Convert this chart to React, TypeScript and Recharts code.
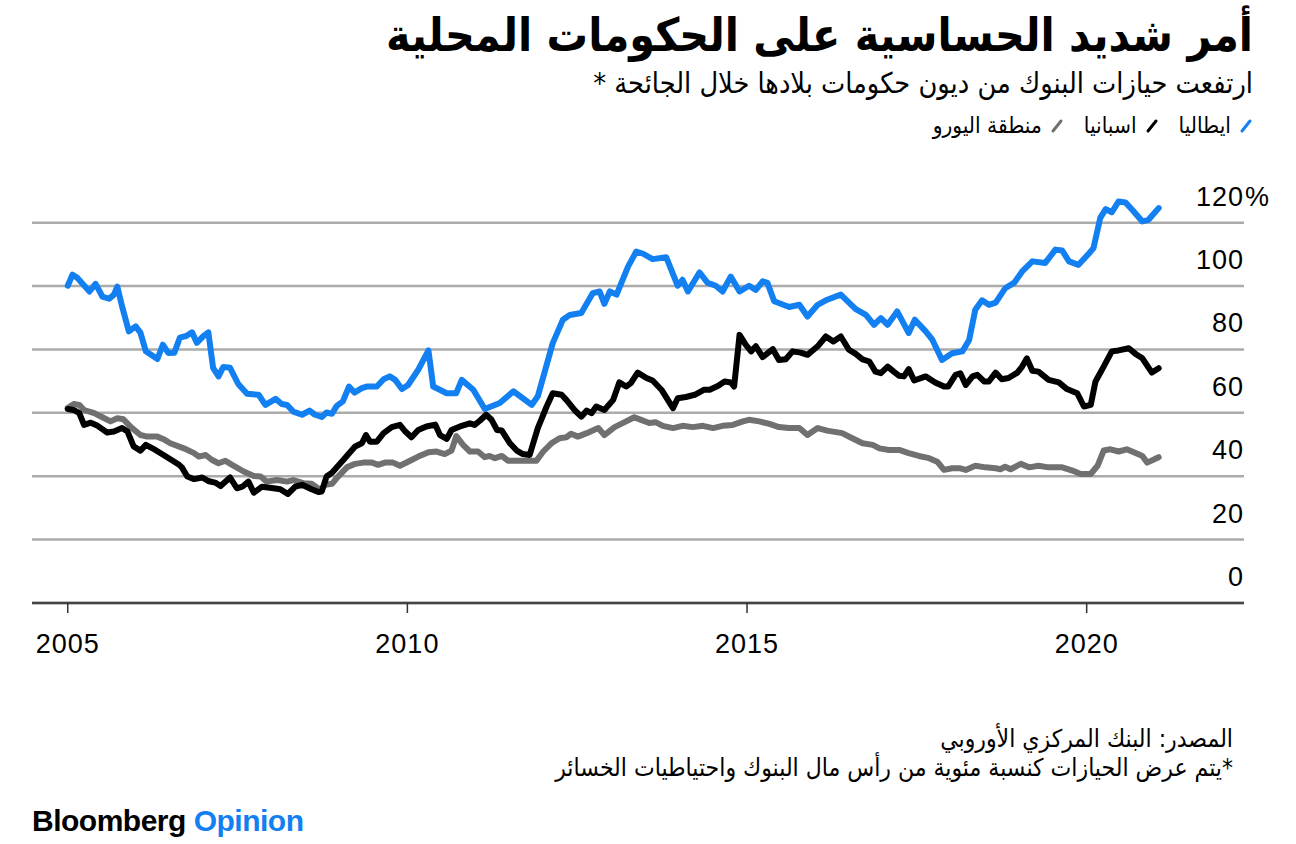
import { LineChart, Line, XAxis, YAxis, CartesianGrid } from 'recharts'

// values (year, % of capital and reserves)
const italy: [number, number][] = [
  [2005.0, 100.1], [2005.07, 103.6], [2005.14, 102.6], [2005.32, 98.3], [2005.41, 100.7], [2005.51, 96.7],
  [2005.61, 96], [2005.68, 97.3], [2005.73, 99.8], [2005.8, 93.6], [2005.9, 85.7], [2006.0, 87.3],
  [2006.07, 85.3], [2006.15, 79.4], [2006.32, 77], [2006.4, 81.5], [2006.48, 78.9], [2006.57, 79],
  [2006.65, 83.7], [2006.75, 84.3], [2006.83, 85.4], [2006.9, 82.1], [2007.0, 84.3], [2007.07, 85.4],
  [2007.14, 74.2], [2007.22, 71.5], [2007.29, 74.5], [2007.39, 74.2], [2007.51, 69.1], [2007.64, 66],
  [2007.81, 65.7], [2007.91, 62.5], [2008.06, 64.4], [2008.15, 62.8], [2008.23, 62.5], [2008.32, 60.4],
  [2008.45, 59.4], [2008.56, 60.7], [2008.64, 59.4], [2008.74, 58.7], [2008.81, 60.1], [2008.89, 59.7],
  [2008.96, 62.2], [2009.05, 63.6], [2009.14, 68.3], [2009.22, 66.4], [2009.33, 67.8], [2009.4, 68.3],
  [2009.55, 68.3], [2009.65, 70.6], [2009.74, 71.5], [2009.82, 70.4], [2009.92, 67.5], [2010.01, 68.8],
  [2010.16, 73.6], [2010.31, 79.7], [2010.38, 68.3], [2010.58, 66.2], [2010.72, 66.2], [2010.8, 70.4],
  [2010.97, 67.3], [2011.14, 61.2], [2011.36, 63.1], [2011.56, 66.8], [2011.65, 65.4], [2011.83, 62.5],
  [2011.92, 65.2], [2012.14, 82], [2012.29, 89.4], [2012.39, 90.9], [2012.56, 91.5], [2012.73, 97.8],
  [2012.83, 98.3], [2012.9, 94.4], [2012.98, 98.3], [2013.08, 97.3], [2013.25, 106.2], [2013.37, 110.9],
  [2013.47, 110.2], [2013.61, 108.5], [2013.81, 109.1], [2013.98, 100.1], [2014.05, 102], [2014.13, 98.3],
  [2014.3, 104.3], [2014.42, 101], [2014.54, 100.1], [2014.64, 98.3], [2014.76, 103], [2014.89, 98.3],
  [2015.03, 100.1], [2015.13, 98.8], [2015.23, 101.5], [2015.3, 101], [2015.4, 95.2], [2015.62, 93.4],
  [2015.77, 94.1], [2015.89, 90.4], [2016.04, 94.1], [2016.18, 95.7], [2016.38, 97.3], [2016.6, 92.7],
  [2016.75, 90.9], [2016.87, 87.8], [2016.97, 89.9], [2017.07, 87.8], [2017.21, 92], [2017.38, 85.2],
  [2017.47, 89.4], [2017.63, 85.7], [2017.73, 83], [2017.87, 76.7], [2018.02, 78.8], [2018.17, 79.4],
  [2018.27, 83], [2018.36, 92.5], [2018.46, 95.5], [2018.56, 94.1], [2018.66, 94.8], [2018.8, 99.3],
  [2018.93, 101], [2019.05, 104.6], [2019.2, 107.8], [2019.39, 107.3], [2019.54, 111.5], [2019.64, 111.2],
  [2019.74, 107.8], [2019.88, 106.7], [2020.03, 110.2], [2020.1, 112], [2020.2, 121.5], [2020.28, 124.3],
  [2020.37, 123.3], [2020.47, 126.7], [2020.57, 126.4], [2020.67, 124.1], [2020.82, 120.4], [2020.91, 120.9],
  [2021.06, 124.6],
]

const spain: [number, number][] = [
  [2005.0, 61.2], [2005.09, 60.9], [2005.17, 59.9], [2005.24, 56.2], [2005.34, 56.9], [2005.44, 55.9],
  [2005.58, 53.8], [2005.68, 54.1], [2005.8, 55.2], [2005.88, 54.1], [2005.97, 49.4], [2006.07, 48.1],
  [2006.15, 49.9], [2006.29, 48.3], [2006.41, 46.7], [2006.64, 43.6], [2006.68, 42.8], [2006.76, 39.9],
  [2006.86, 39.1], [2006.98, 39.6], [2007.08, 38.4], [2007.17, 38], [2007.25, 36.9], [2007.39, 39.6],
  [2007.49, 36.2], [2007.57, 36.7], [2007.66, 38.3], [2007.74, 34.8], [2007.86, 36.7], [2008.03, 36.2],
  [2008.13, 35.9], [2008.24, 34.4], [2008.35, 36.7], [2008.45, 37.3], [2008.59, 35.9], [2008.69, 35],
  [2008.74, 35.2], [2008.81, 39.9], [2008.89, 41.1], [2009.06, 45.2], [2009.23, 49.4], [2009.33, 50.4],
  [2009.39, 53], [2009.45, 50.9], [2009.55, 50.9], [2009.65, 53.6], [2009.77, 55.5], [2009.89, 56.2],
  [2009.97, 54.1], [2010.06, 52.3], [2010.16, 54.6], [2010.28, 55.7], [2010.41, 56.3], [2010.48, 53],
  [2010.58, 51.8], [2010.65, 54.6], [2010.8, 55.9], [2010.92, 56.7], [2010.99, 56.2], [2011.07, 57.6],
  [2011.16, 59.4], [2011.24, 57.8], [2011.32, 54.6], [2011.39, 54.4], [2011.51, 50.4], [2011.61, 48.1],
  [2011.7, 47], [2011.8, 46.7], [2011.92, 55.2], [2012.05, 62], [2012.14, 66.2], [2012.27, 65.7],
  [2012.34, 64.1], [2012.46, 60.9], [2012.56, 58.8], [2012.64, 60.7], [2012.71, 59.9], [2012.78, 62],
  [2012.9, 60.9], [2013.03, 64.1], [2013.12, 69.6], [2013.22, 68.3], [2013.29, 69.4], [2013.39, 72.7],
  [2013.52, 71], [2013.61, 70.2], [2013.74, 67.3], [2013.91, 61.5], [2013.98, 64.6], [2014.1, 65],
  [2014.23, 65.7], [2014.37, 67.3], [2014.45, 67.3], [2014.57, 68.5], [2014.67, 69.9], [2014.76, 69.6],
  [2014.81, 68.3], [2014.89, 84.6], [2014.98, 81.5], [2015.06, 79.4], [2015.13, 81], [2015.23, 77.6],
  [2015.38, 80.1], [2015.47, 76.7], [2015.57, 76.9], [2015.67, 79.4], [2015.79, 79], [2015.89, 78.3],
  [2016.04, 81], [2016.16, 84.1], [2016.27, 82.5], [2016.38, 84.1], [2016.5, 79.9], [2016.6, 78.6],
  [2016.7, 76.9], [2016.8, 76.2], [2016.89, 73], [2016.97, 72.5], [2017.07, 74.6], [2017.16, 73],
  [2017.24, 71.7], [2017.31, 71.5], [2017.38, 73.8], [2017.46, 70.2], [2017.63, 71.5], [2017.77, 69.6],
  [2017.9, 68.3], [2017.96, 68.3], [2018.07, 72], [2018.14, 72.5], [2018.22, 68.8], [2018.32, 71.5],
  [2018.39, 72], [2018.49, 69.9], [2018.56, 69.9], [2018.66, 72.7], [2018.75, 70.6], [2018.85, 71],
  [2018.98, 72.7], [2019.05, 74.6], [2019.12, 77.2], [2019.2, 73.3], [2019.29, 73], [2019.44, 70.4],
  [2019.59, 69.6], [2019.71, 67.5], [2019.86, 66.2], [2019.96, 62], [2020.06, 62.5], [2020.13, 69.9],
  [2020.25, 74.6], [2020.37, 79.4], [2020.47, 79.7], [2020.62, 80.4], [2020.72, 78.6], [2020.82, 77.2],
  [2020.96, 72.7], [2021.06, 74.1],
]

const euroArea: [number, number][] = [
  [2005.0, 61.5], [2005.09, 62.8], [2005.17, 62.5], [2005.24, 60.9], [2005.39, 59.9], [2005.51, 58.6],
  [2005.63, 57.3], [2005.73, 58.3], [2005.82, 58], [2005.93, 55.5], [2006.07, 53], [2006.17, 52.5],
  [2006.32, 52.5], [2006.41, 51.7], [2006.51, 50.4], [2006.71, 48.8], [2006.86, 47.3], [2006.93, 46.2],
  [2007.03, 46.7], [2007.12, 45.2], [2007.22, 44.1], [2007.32, 44.9], [2007.42, 43.6], [2007.59, 41.5],
  [2007.74, 40.1], [2007.84, 39.9], [2007.93, 38.3], [2008.08, 38.8], [2008.23, 38.3], [2008.32, 38.8],
  [2008.47, 37.8], [2008.59, 37.6], [2008.72, 35.7], [2008.79, 37.3], [2008.89, 37.6], [2008.98, 39.9],
  [2009.11, 42.8], [2009.23, 43.9], [2009.35, 44.3], [2009.48, 44.3], [2009.57, 43.6], [2009.67, 44.3],
  [2009.79, 44.3], [2009.89, 43.3], [2010.04, 44.9], [2010.16, 46.2], [2010.31, 47.6], [2010.43, 47.8],
  [2010.55, 47], [2010.65, 48.1], [2010.72, 52.7], [2010.82, 49.9], [2010.92, 47.8], [2011.04, 47.8],
  [2011.14, 46], [2011.21, 46.4], [2011.29, 45.7], [2011.39, 46.4], [2011.48, 44.9], [2011.65, 44.9],
  [2011.9, 44.9], [2012.0, 47.8], [2012.12, 50.4], [2012.24, 52], [2012.34, 52.3], [2012.41, 53.4],
  [2012.51, 52.5], [2012.64, 53.6], [2012.81, 55.2], [2012.9, 53], [2013.05, 55.5], [2013.22, 57.3],
  [2013.34, 58.6], [2013.44, 57.8], [2013.56, 56.8], [2013.66, 57], [2013.76, 55.9], [2013.91, 55.2],
  [2014.05, 55.9], [2014.2, 55.5], [2014.35, 55.9], [2014.5, 55.2], [2014.64, 55.9], [2014.79, 56.2],
  [2014.94, 57.3], [2015.03, 57.8], [2015.18, 57.3], [2015.33, 56.5], [2015.47, 55.5], [2015.62, 55.2],
  [2015.77, 55.2], [2015.89, 53], [2016.04, 55.2], [2016.18, 54.4], [2016.4, 53.6], [2016.55, 52],
  [2016.7, 50.4], [2016.85, 49.9], [2016.95, 48.8], [2017.09, 48.3], [2017.24, 48.3], [2017.38, 47.3],
  [2017.53, 46.4], [2017.68, 45.7], [2017.8, 44.6], [2017.9, 42], [2018.02, 42.5], [2018.14, 42.5],
  [2018.22, 42], [2018.36, 43.3], [2018.51, 42.8], [2018.66, 42.5], [2018.73, 42.2], [2018.8, 43],
  [2018.88, 42.2], [2019.03, 43.9], [2019.15, 42.8], [2019.29, 43.3], [2019.44, 42.8], [2019.64, 42.8],
  [2019.79, 41.8], [2019.91, 40.7], [2020.06, 40.7], [2020.16, 43.3], [2020.25, 48.1], [2020.35, 48.5],
  [2020.47, 47.8], [2020.59, 48.5], [2020.72, 47.3], [2020.82, 46.4], [2020.89, 44.3], [2021.06, 46],
]

const xTicks = [2005, 2010, 2015, 2020]
const yTicks = [0, 20, 40, 60, 80, 100, 120]

const TITLE = 'أمر شديد الحساسية على الحكومات المحلية'
const SUBTITLE = 'ارتفعت حيازات البنوك من ديون حكومات بلادها خلال الجائحة *'
const SOURCE = 'المصدر: البنك المركزي الأوروبي'
const NOTE = '*يتم عرض الحيازات كنسبة مئوية من رأس مال البنوك واحتياطيات الخسائر'

const BLUE = '#1380f2'
const GRAY = '#707070'
const ARABIC = "'DejaVu Sans Condensed', 'DejaVu Sans', sans-serif"
const LATIN = "'Liberation Sans', Arial, sans-serif"

const series = [
  { name: 'ايطاليا', color: BLUE, rows: italy },
  { name: 'اسبانيا', color: '#000000', rows: spain },
  { name: 'منطقة اليورو', color: GRAY, rows: euroArea },
]

const toPoints = (rows: [number, number][]) => rows.map(([year, value]) => ({ year, value }))

function XTick({ x, y, payload }: any) {
  return (
    <text x={x} y={y + 38} textAnchor="middle" fontFamily={LATIN} fontSize={27} fill="#000" letterSpacing={1}>
      {payload.value}
    </text>
  )
}

function YTick({ y, payload }: any) {
  return (
    <g>
      <text x={1244} y={y - 17} textAnchor="end" fontFamily={LATIN} fontSize={27} fill="#000" letterSpacing={1}>
        {payload.value}
      </text>
      {payload.value === 120 ? (
        <text x={1245} y={y - 17} textAnchor="start" fontFamily={LATIN} fontSize={27} fill="#000">
          %
        </text>
      ) : null}
    </g>
  )
}

function Slash({ color }: { color: string }) {
  return (
    <svg width={14} height={18} style={{ display: 'inline-block', verticalAlign: 'middle' }}>
      <line x1={3} y1={15} x2={11} y2={5} stroke={color} strokeWidth={3} strokeLinecap="round" />
    </svg>
  )
}

export default function App() {
  return (
    <div style={{ position: 'fixed', left: 0, top: 0, width: 1296, height: 844, background: '#fff', overflow: 'hidden' }}>
      <div
        dir="rtl"
        style={{ position: 'absolute', right: 43, top: 8, fontFamily: ARABIC, fontWeight: 700, fontSize: 46, color: '#000', whiteSpace: 'nowrap' }}
      >
        {TITLE}
      </div>
      <div
        dir="rtl"
        style={{ position: 'absolute', right: 43, top: 66, fontFamily: ARABIC, fontSize: 28.6, color: '#000', whiteSpace: 'nowrap' }}
      >
        {SUBTITLE}
      </div>
      <div
        dir="rtl"
        style={{ position: 'absolute', right: 43, top: 112, fontFamily: ARABIC, fontSize: 22.5, color: '#000', whiteSpace: 'nowrap', display: 'flex', gap: 20 }}
      >
        {series.map((s) => (
          <span key={s.name} style={{ display: 'inline-flex', alignItems: 'center', gap: 8 }}>
            <Slash color={s.color} />
            <span>{s.name}</span>
          </span>
        ))}
      </div>

      <div style={{ position: 'absolute', left: 0, top: 0 }}>
        <LineChart width={1296} height={844} margin={{ top: 191, right: 0, bottom: 201, left: 32 }}>
          <CartesianGrid
            horizontal
            vertical={false}
            horizontalValues={yTicks}
            stroke="#ababab"
            strokeWidth={2.5}
          />
          <XAxis
            dataKey="year"
            type="number"
            domain={[2004.474, 2022.316]}
            allowDataOverflow
            ticks={xTicks}
            height={40}
            tick={<XTick />}
            tickSize={10}
            tickLine={{ stroke: '#333', strokeWidth: 1.5 }}
            axisLine={{ stroke: '#444', strokeWidth: 2.5 }}
          />
          <YAxis
            orientation="right"
            type="number"
            domain={[0, 130]}
            allowDataOverflow
            ticks={yTicks}
            width={52}
            tick={<YTick />}
            tickLine={false}
            axisLine={false}
          />
          {[...series].reverse().map((s) => (
            <Line
              key={s.name}
              data={toPoints(s.rows)}
              dataKey="value"
              type="linear"
              stroke={s.color}
              strokeWidth={6}
              strokeLinejoin="round"
              strokeLinecap="round"
              dot={false}
              activeDot={false}
              isAnimationActive={false}
            />
          ))}
        </LineChart>
      </div>

      <div
        dir="rtl"
        style={{ position: 'absolute', right: 63, top: 724, fontFamily: ARABIC, fontSize: 24.5, lineHeight: '29px', color: '#000', whiteSpace: 'nowrap', textAlign: 'right' }}
      >
        <div>{SOURCE}</div>
        <div>{NOTE}</div>
      </div>

      <div
        style={{ position: 'absolute', left: 32, top: 804, fontFamily: "'Liberation Sans Narrow', 'Liberation Sans', Arial, sans-serif", fontWeight: 700, fontSize: 30, letterSpacing: -0.5, whiteSpace: 'nowrap' }}
      >
        <span style={{ color: '#000' }}>Bloomberg</span> <span style={{ color: BLUE }}>Opinion</span>
      </div>
    </div>
  )
}
